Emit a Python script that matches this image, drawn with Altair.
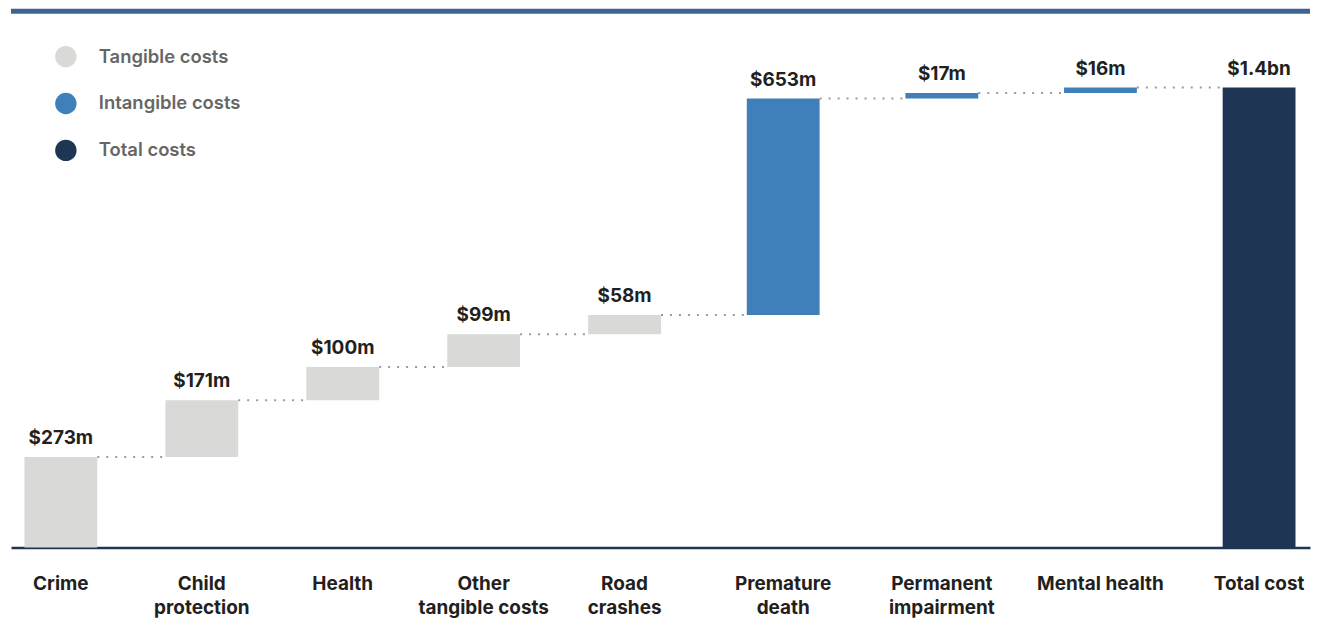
import altair as alt
import pandas as pd

categories = ["Crime", "Child protection", "Health", "Other tangible costs", "Road crashes",
              "Premature death", "Permanent impairment", "Mental health", "Total cost"]
label_line1 = ["Crime", "Child", "Health", "Other", "Road", "Premature", "Permanent",
               "Mental health", "Total cost"]
label_line2 = ["", "protection", "", "tangible costs", "crashes", "death", "impairment", "", ""]
values = [273, 171, 100, 99, 58, 653, 17, 16, 1387]
value_labels = ["$273m", "$171m", "$100m", "$99m", "$58m", "$653m", "$17m", "$16m", "$1.4bn"]
cost_types = ["Tangible costs"] * 5 + ["Intangible costs"] * 3 + ["Total costs"]
type_order = ["Tangible costs", "Intangible costs", "Total costs"]
type_colors = ["#d9d9d7", "#3f80ba", "#1f3554"]

FONT = "Inter"
W, H = 1302, 540
BAR_W = 73
# piecewise x layout: tangible categories sit closer together than the others
X_DOMAIN = [-0.354, 4, 8.321]
X_RANGE = [0, 615, W]
Y_MAX = 1625

idx = list(range(len(categories)))
starts, ends = [], []
running = 0
for i, v in enumerate(values):
    if cost_types[i] == "Total costs":
        starts.append(0)
        ends.append(v)
    else:
        starts.append(running)
        running += v
        ends.append(running)

df = pd.DataFrame({"idx": idx, "start": starts, "end": ends, "label": value_labels,
                   "type": cost_types, "line1": label_line1, "line2": label_line2})
conn = pd.DataFrame({"from": idx[:-1], "to": idx[1:], "level": ends[:-1]})
legend_df = pd.DataFrame({"type": type_order})

xscale = alt.Scale(domain=X_DOMAIN, range=X_RANGE, nice=False, zero=False, padding=0)
yscale = alt.Scale(domain=[0, Y_MAX], nice=False)
cscale = alt.Scale(domain=type_order, range=type_colors)

bars = alt.Chart(df).mark_bar(width=BAR_W).encode(
    x=alt.X("idx:Q", scale=xscale,
            axis=alt.Axis(title=None, values=idx, ticks=False, grid=False, labels=False,
                          domain=True, domainColor="#1f3554", domainWidth=2.5)),
    y=alt.Y("start:Q", scale=yscale, axis=None),
    y2="end:Q",
    color=alt.Color("type:N", scale=cscale, legend=None),
)

connectors = alt.Chart(conn).mark_rule(color="#9a9a9a", strokeWidth=2, strokeDash=[2, 7],
                                       xOffset=BAR_W / 2, x2Offset=-BAR_W / 2).encode(
    x=alt.X("from:Q", scale=xscale),
    x2="to:Q",
    y=alt.Y("level:Q", scale=yscale, axis=None),
)

texts = alt.Chart(df).mark_text(font=FONT, fontSize=19, fontWeight=700, color="#231f20",
                                baseline="bottom", dy=-9).encode(
    x=alt.X("idx:Q", scale=xscale),
    y=alt.Y("end:Q", scale=yscale, axis=None),
    text="label:N",
)

axis_text_style = dict(font=FONT, fontSize=19, fontWeight=700, color="#231f20",
                       baseline="middle", align="center")
xlab1 = alt.Chart(df).mark_text(**axis_text_style).encode(
    x=alt.X("idx:Q", scale=xscale), y=alt.value(H + 37), text="line1:N")
xlab2 = alt.Chart(df).mark_text(**axis_text_style).encode(
    x=alt.X("idx:Q", scale=xscale), y=alt.value(H + 61), text="line2:N")

top_line = alt.Chart(df.head(1)).mark_rule(color="#3e6391", strokeWidth=5).encode(
    x=alt.value(0), x2=alt.value(W), y=alt.value(2.5)
)

legend_layers = []
for i, t in enumerate(type_order):
    sub = legend_df[legend_df["type"] == t]
    legend_layers.append(alt.Chart(sub).mark_circle(size=460, opacity=1).encode(
        x=alt.value(55), y=alt.value(48 + 47 * i),
        color=alt.Color("type:N", scale=cscale, legend=None)))
    legend_layers.append(alt.Chart(sub).mark_text(
        font=FONT, fontSize=18.5, fontWeight=600, color="#666666", align="left",
        baseline="middle").encode(x=alt.value(88), y=alt.value(48 + 47 * i), text="type:N"))

chart = alt.layer(top_line, connectors, bars, texts, xlab1, xlab2, *legend_layers).properties(
    width=W, height=H, padding=0
).configure_view(stroke=None)

chart.save("out.html", embed_options={"renderer": "svg", "actions": False})
